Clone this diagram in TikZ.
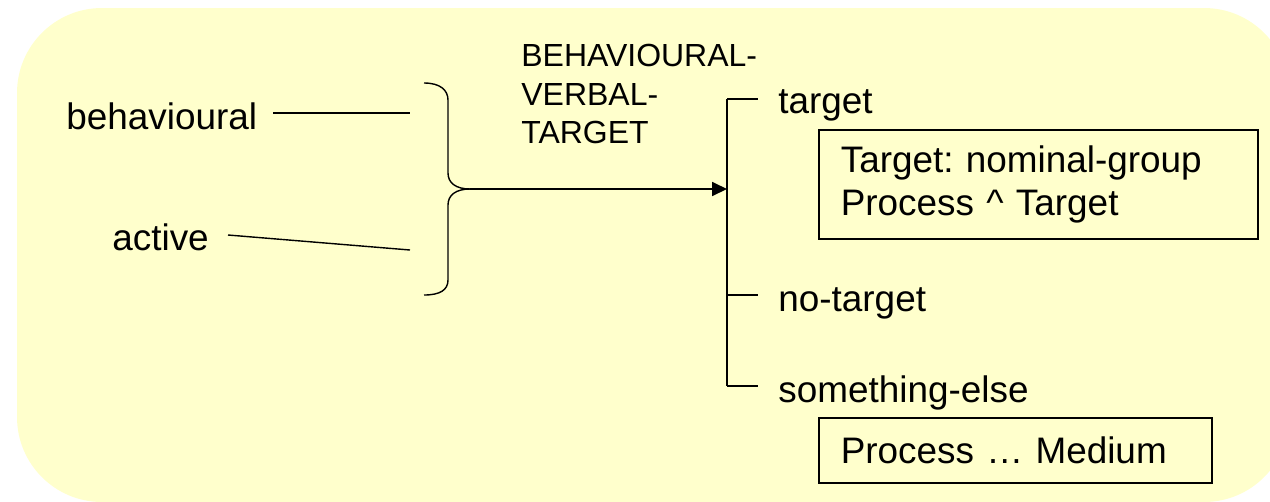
\documentclass[tikz,border=0pt]{standalone}
\usepackage{fontspec}
\setmainfont{Liberation Sans}
\usetikzlibrary{arrows.meta}
\definecolor{bgyellow}{HTML}{FFFFCC}
\frenchspacing
\tikzset{
  lbl/.style={inner sep=0pt, anchor=base west, font=\fontsize{21}{25}\selectfont},
  caps/.style={inner sep=0pt, anchor=north west, align=left, font=\fontsize{18.2}{22}\selectfont},
  realbox/.style={draw, line width=0.9pt, anchor=north west, align=left, inner xsep=0.44cm,
    font=\fontsize{21}{24.5}\selectfont},
  conn/.style={line width=0.8pt},
}
\begin{document}
\begin{tikzpicture}[x=0.02cm, y=-0.02cm]
\useasboundingbox (0,0) rectangle (1270,501);
\clip (0,0) rectangle (1270,501);
\fill[bgyellow, rounded corners=1.7cm] (17,8) rectangle (1289,502);

% left features
\node[lbl] (behav) at (66,129) {behavioural};
\node[lbl] (active) at (112,250) {active};
\coordinate (b1) at (273,113);
\coordinate (b2) at (410,113);
\coordinate (a1) at (228,235);
\coordinate (a2) at (410,250);
\draw[conn] (b1) -- (b2);
\draw[conn] (a1) -- (a2);

% brace
\coordinate (btop) at (424,83);
\coordinate (bbot) at (424,295);
\coordinate (tip) at (470,189);
\draw[conn] (btop) .. controls (440,83) and (448,90) .. (448,100) -- (448,173)
  .. controls (448,183) and (456,189) .. (tip);
\draw[conn] (tip) .. controls (456,189) and (448,195) .. (448,205) -- (448,280)
  .. controls (448,290) and (440,295) .. (bbot);

% system name
\node[caps] (sysname) at (521,44) {BEHAVIOURAL-\\VERBAL-\\TARGET};

% system bar
\coordinate (v1) at (727,99);
\coordinate (v2) at (727,295);
\coordinate (v3) at (727,386);
\coordinate (vin) at (727,189);
\draw[conn, -{Triangle[length=8.5pt,width=8pt]}] (tip) -- (vin);
\draw[conn] (v1) -- (v3);

\node[lbl] (target) at (778,113) {target};
\node[lbl] (notarget) at (778,311) {no-target};
\node[lbl] (selse) at (778,402) {something-else};
\draw[conn] (v1) -- ++(31,0) coordinate (t1);
\draw[conn] (v2) -- ++(31,0) coordinate (t2);
\draw[conn] (v3) -- ++(31,0) coordinate (t3);

% realization boxes
\node[realbox, minimum width=8.78cm, minimum height=2.18cm, text width=7.9cm] (rb1) at (818,129)
  {Target: nominal-group\\Process \textasciicircum{} Target};
\node[realbox, minimum width=7.86cm, minimum height=1.3cm, text width=6.98cm] (rb2) at (818,417)
  {Process … Medium};
\end{tikzpicture}
\end{document}
